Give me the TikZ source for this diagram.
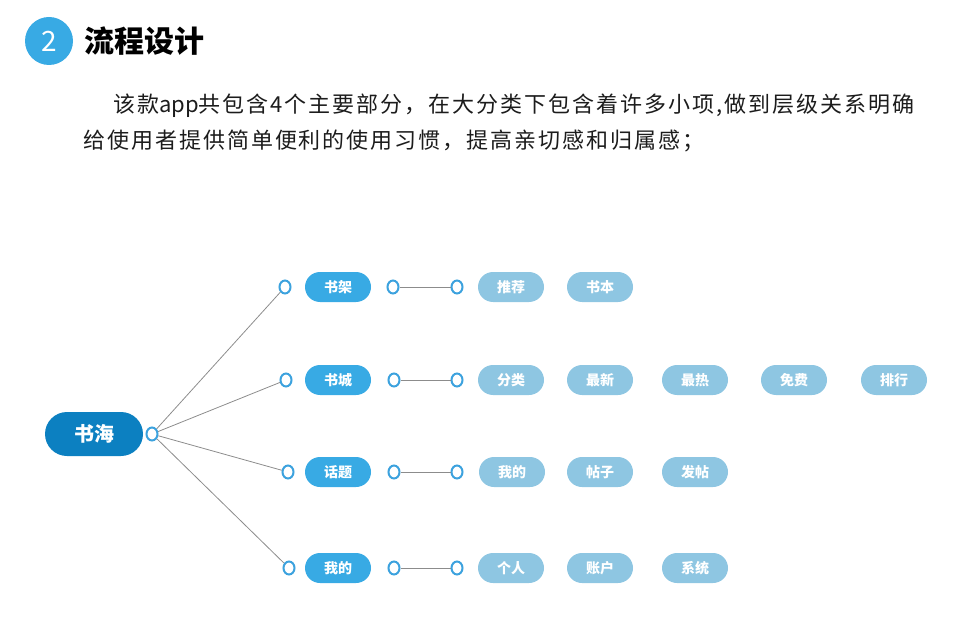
\documentclass[tikz,border=0pt]{standalone}
\usepackage{fontspec}
\setmainfont{Noto Sans CJK SC}
\usetikzlibrary{shapes.geometric}
\definecolor{rootblue}{RGB}{12,128,193}
\definecolor{catblue}{RGB}{56,170,228}
\definecolor{itemblue}{RGB}{142,198,226}
\definecolor{dotblue}{RGB}{60,162,222}
\definecolor{linegray}{RGB}{140,140,140}
\definecolor{textgray}{RGB}{28,28,28}
\begin{document}
\begin{tikzpicture}[
	x=1pt, y=-1pt,
	rootnode/.style={rectangle, rounded corners=22pt, fill=rootblue, text=white, minimum width=98pt, minimum height=44pt, inner sep=0pt, font=\fontsize{20}{20}\selectfont\bfseries},
	catnode/.style={rectangle, rounded corners=15pt, fill=catblue, text=white, minimum width=66pt, minimum height=30pt, inner sep=0pt, font=\fontsize{14}{14}\selectfont\bfseries},
	itemnode/.style={rectangle, rounded corners=15pt, fill=itemblue, text=white, minimum width=66pt, minimum height=30pt, inner sep=0pt, font=\fontsize{14}{14}\selectfont\bfseries},
	dotnode/.style={ellipse, draw=dotblue, fill=white, line width=2pt, minimum width=11pt, minimum height=13pt, inner sep=0pt},
	branch/.style={draw=linegray, line width=0.8pt},
	paratext/.style={anchor=west, inner sep=0pt, text=textgray, font=\fontsize{22}{22}\selectfont\addfontfeatures{LetterSpace=9}},
	]
	\useasboundingbox (0,0) rectangle (971,620);
	
	%Title
	\node[circle, fill=catblue, text=white, minimum size=48pt, inner sep=0pt, font=\fontsize{28}{28}\selectfont] (num) at (49,41) {2};
	\node[anchor=west, inner sep=0pt, font=\fontsize{30}{30}\selectfont\bfseries] (title) at (84,41) {流程设计};
	\node[paratext] (para1) at (113,106) {该款{\addfontfeatures{LetterSpace=0}app}共包含4个主要部分，在大分类下包含着许多小项,做到层级关系明确};
	\node[paratext] (para2) at (83,141) {给使用者提供简单便利的使用习惯，提高亲切感和归属感；};
	
	%Nodes
	\node[rootnode] (root) at (94,434) {书海};
	\node[dotnode] (rootdot) at (152,434) {};
	
	\node[dotnode] (shelfdot) at (285,287) {};
	\node[dotnode] (citydot) at (286,380) {};
	\node[dotnode] (topicdot) at (288,472) {};
	\node[dotnode] (minedot) at (289,568) {};
	
	\node[catnode] (shelf) at (338,287) {书架};
	\node[catnode] (city) at (338,380) {书城};
	\node[catnode] (topic) at (338,472) {话题};
	\node[catnode] (mine) at (338,568) {我的};
	
	\node[dotnode] (shelfa) at (393,287) {};
	\node[dotnode] (shelfb) at (457,287) {};
	\node[dotnode] (citya) at (394,380) {};
	\node[dotnode] (cityb) at (457,380) {};
	\node[dotnode] (topica) at (394,472) {};
	\node[dotnode] (topicb) at (457,472) {};
	\node[dotnode] (minea) at (394,568) {};
	\node[dotnode] (mineb) at (457,568) {};
	
	\node[itemnode] (recommend) at (511,287) {推荐};
	\node[itemnode] (books) at (600,287) {书本};
	
	\node[itemnode] (sort) at (511,380) {分类};
	\node[itemnode] (newest) at (600,380) {最新};
	\node[itemnode] (hottest) at (695,380) {最热};
	\node[itemnode] (free) at (794,380) {免费};
	\node[itemnode] (rank) at (894,380) {排行};
	
	\node[itemnode] (myposts) at (512,472) {我的};
	\node[itemnode] (posts) at (600,472) {帖子};
	\node[itemnode] (newpost) at (695,472) {发帖};
	
	\node[itemnode] (personal) at (511,568) {个人};
	\node[itemnode] (account) at (600,568) {账户};
	\node[itemnode] (system) at (695,568) {系统};
	
	%Lines
	\draw[branch] (rootdot) -- (shelfdot);
	\draw[branch] (rootdot) -- (citydot);
	\draw[branch] (rootdot) -- (topicdot);
	\draw[branch] (rootdot) -- (minedot);
	\draw[branch] (shelfa) -- (shelfb);
	\draw[branch] (citya) -- (cityb);
	\draw[branch] (topica) -- (topicb);
	\draw[branch] (minea) -- (mineb);
	
\end{tikzpicture}
\end{document}
